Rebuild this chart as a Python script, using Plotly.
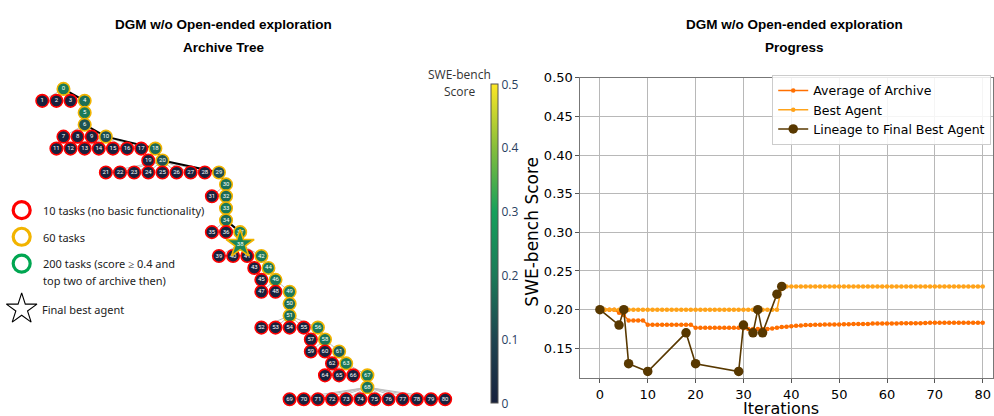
import plotly.graph_objects as go

W, H = 994, 416

# ---------------- Archive tree data ----------------
node_ids = list(range(81))
node_parent = [None, 0, 0, 0, 0, 4, 5, 6, 6, 6, 6,
               10, 10, 10, 10, 10, 10, 10, 10, 18, 18,
               20, 20, 20, 20, 20, 20, 20, 20, 20, 29,
               30, 30, 32, 33, 34, 34, 34, 37, 38, 38,
               38, 38, 42, 42, 44, 44, 46, 46, 46, 49,
               50, 51, 51, 51, 51, 51, 56, 56, 58, 58,
               58, 61, 61, 63, 63, 63, 63, 67, 68, 68,
               68, 68, 68, 68, 68, 68, 68, 68, 68, 68]
# grid placement of each node in the tree drawing (column, generation row)
node_col = [1.5, 0, 1, 2, 3, 3, 3, 1.5, 2.5, 3.5, 4.5,
            1, 2, 3, 4, 5, 6, 7, 8, 7.5, 8.5,
            4.5, 5.5, 6.5, 7.5, 8.5, 9.5, 10.5, 11.5, 12.5, 13,
            12, 13, 13, 13, 12, 13, 14, 14, 12.5, 13.5,
            14.5, 15.5, 15, 16, 15.5, 16.5, 15.5, 16.5, 17.5, 17.5,
            17.5, 15.5, 16.5, 17.5, 18.5, 19.5, 19, 20, 19, 20,
            21, 20.5, 21.5, 20, 21, 22, 23, 23, 17.5, 18.5,
            19.5, 20.5, 21.5, 22.5, 23.5, 24.5, 25.5, 26.5, 27.5, 28.5]
node_row = [0, 1, 1, 1, 1, 2, 3, 4, 4, 4, 4,
            5, 5, 5, 5, 5, 5, 5, 5, 6, 6,
            7, 7, 7, 7, 7, 7, 7, 7, 7, 8,
            9, 9, 10, 11, 12, 12, 12, 13, 14, 14,
            14, 14, 15, 15, 16, 16, 17, 17, 17, 18,
            19, 20, 20, 20, 20, 20, 21, 21, 22, 22,
            22, 23, 23, 24, 24, 24, 24, 25, 26, 26,
            26, 26, 26, 26, 26, 26, 26, 26, 26, 26]
green_scores = {0: 0.20, 4: 0.18, 5: 0.20, 6: 0.13, 10: 0.12, 18: 0.17, 20: 0.13,
                29: 0.12, 30: 0.18, 32: 0.17, 33: 0.20, 34: 0.17, 37: 0.22, 38: 0.23,
                42: 0.20, 44: 0.20, 46: 0.19, 49: 0.20, 50: 0.18, 51: 0.18, 56: 0.20,
                58: 0.19, 61: 0.15, 63: 0.20, 67: 0.20, 68: 0.19}
node_score = [green_scores.get(i, 0.0) for i in node_ids]
node_tasks = [60 if i in green_scores else 10 for i in node_ids]
final_best = 38
lineage = [0, 4, 5, 6, 10, 18, 20, 29, 30, 32, 33, 34, 37, 38]

# ---------------- Progress data ----------------
iterations = list(range(81))
avg_archive = [0.200, 0.200, 0.200, 0.200, 0.196, 0.193, 0.186, 0.186, 0.186, 0.186,
               0.1805, 0.1805, 0.1805, 0.1805, 0.1805, 0.1805, 0.1805, 0.1805, 0.1805, 0.1805,
               0.1765, 0.1765, 0.1765, 0.1765, 0.1765, 0.1765, 0.1765, 0.1765, 0.1765, 0.1765,
               0.1760, 0.1750, 0.1750, 0.1750, 0.1750, 0.1750, 0.1755, 0.1765, 0.1775, 0.1780,
               0.1785, 0.1790, 0.1795, 0.1800, 0.1800, 0.1805, 0.1805, 0.1807, 0.1807, 0.1807,
               0.1807, 0.1812, 0.1812, 0.1815, 0.1815, 0.1815, 0.1815, 0.1820, 0.1820, 0.1820,
               0.1820, 0.1820, 0.1822, 0.1825, 0.1825, 0.1825, 0.1825, 0.1825, 0.1828, 0.1830,
               0.1830, 0.1830, 0.1830, 0.1830, 0.1830, 0.1830, 0.1830, 0.1830, 0.1830, 0.1830,
               0.1830]
best_agent = [0.20] * 38 + [0.23] * 43
lineage_iters = [0, 4, 5, 6, 10, 18, 20, 29, 30, 32, 33, 34, 37, 38]
lineage_scores = [0.20, 0.18, 0.20, 0.13, 0.12, 0.17, 0.13, 0.12, 0.18, 0.17, 0.20, 0.17, 0.22, 0.23]

# ---------------- helpers for layout (pixel -> tree coords) ----------------
X0, DX = 42.3, 14.15
Y0, DY = 83.3, 12.14
def pc(px): return (px - X0) / DX
def pr(py): return (py - Y0) / DY

colorscale = [[0.0, '#18213d'], [0.2, '#1e4450'], [0.4, '#1b7a58'],
              [0.6, '#16a05c'], [0.8, '#86be3b'], [1.0, '#fde725']]

fig = go.Figure()

# edges
lin_set = set(zip(lineage[:-1], lineage[1:]))
ex, ey, lx, ly = [], [], [], []
for i, p in enumerate(node_parent):
    if p is None:
        continue
    if (p, i) in lin_set:
        lx += [node_col[p], node_col[i], None]
        ly += [node_row[p], node_row[i], None]
    else:
        ex += [node_col[p], node_col[i], None]
        ey += [node_row[p], node_row[i], None]
fig.add_trace(go.Scatter(x=ex, y=ey, mode='lines', line=dict(color='#bdbdbd', width=1),
                         hoverinfo='skip', showlegend=False, xaxis='x2', yaxis='y2'))
fig.add_trace(go.Scatter(x=lx, y=ly, mode='lines', line=dict(color='black', width=2),
                         hoverinfo='skip', showlegend=False, xaxis='x2', yaxis='y2'))

border = {10: '#ff0000', 60: '#f2b400', 200: '#00a651'}
idx = [i for i in node_ids if i != final_best]
fig.add_trace(go.Scatter(
    x=[node_col[i] for i in idx], y=[node_row[i] for i in idx],
    mode='markers+text', text=[str(i) for i in idx], textposition='middle center',
    textfont=dict(color='white', size=6, family='Roboto'),
    marker=dict(size=12.5, color=[node_score[i] for i in idx], cmin=0, cmax=0.5,
                colorscale=colorscale,
                line=dict(color=[border[node_tasks[i]] for i in idx], width=1.6),
                colorbar=dict(thickness=7, len=324 / H, lenmode='fraction',
                              y=1 - 241 / H, yanchor='middle', x=491 / W, xanchor='left',
                              xpad=0, ypad=0, outlinewidth=1, outlinecolor='#555',
                              tickvals=[0, 0.1, 0.2, 0.3, 0.4, 0.5],
                              ticktext=['0', '0.1', '0.2', '0.3', '0.4', '0.5'],
                              tickfont=dict(size=12, color='#2a3f5f', family='Open Sans'))),
    hoverinfo='skip', showlegend=False, xaxis='x2', yaxis='y2'))
fig.add_trace(go.Scatter(
    x=[node_col[final_best]], y=[node_row[final_best]], mode='markers+text',
    text=[str(final_best)], textposition='middle center',
    textfont=dict(color='white', size=6, family='Roboto'),
    marker=dict(symbol='star', size=21, color=[node_score[final_best]], cmin=0, cmax=0.5,
                colorscale=colorscale, line=dict(color=border[60], width=1.6)),
    hoverinfo='skip', showlegend=False, xaxis='x2', yaxis='y2'))

# tree legend symbols
leg_py = [206.7, 233.7, 261.0]
fig.add_trace(go.Scatter(
    x=[pc(21.7)] * 3, y=[pr(v) for v in leg_py], mode='markers',
    marker=dict(size=17, color='rgba(255,255,255,0)',
                line=dict(color=[border[10], border[60], border[200]], width=3.2)),
    hoverinfo='skip', showlegend=False, xaxis='x2', yaxis='y2'))
fig.add_trace(go.Scatter(
    x=[pc(21.7)], y=[pr(307.3)], mode='markers',
    marker=dict(symbol='star-open', size=23, color='black', line=dict(color='black', width=1.1)),
    hoverinfo='skip', showlegend=False, xaxis='x2', yaxis='y2'))

# ---------------- Progress traces ----------------
fig.add_trace(go.Scatter(x=iterations, y=avg_archive, mode='lines+markers', name='Average of Archive',
                         line=dict(color='#ff6f00', width=1.6), marker=dict(size=4.5, color='#ff6f00')))
fig.add_trace(go.Scatter(x=iterations, y=best_agent, mode='lines+markers', name='Best Agent',
                         line=dict(color='#ffa31a', width=1.6), marker=dict(size=4.5, color='#ffa31a')))
fig.add_trace(go.Scatter(x=lineage_iters, y=lineage_scores, mode='lines+markers',
                         name='Lineage to Final Best Agent',
                         line=dict(color='#583800', width=1.6), marker=dict(size=9.5, color='#583800')))

mpl_font = 'DejaVu Sans'
fig.update_layout(
    width=W, height=H, margin=dict(l=0, r=0, t=0, b=0),
    paper_bgcolor='white', plot_bgcolor='white',
    xaxis=dict(domain=[581 / W, 1], range=[-4.07, 82.15], tickvals=list(range(0, 81, 10)),
               showgrid=True, gridcolor='#b8b8b8', gridwidth=1, zeroline=False,
               showline=True, linecolor='#777', linewidth=1, mirror=True,
               ticks='outside', ticklen=4, tickcolor='#555',
               tickfont=dict(family=mpl_font, size=13, color='black')),
    yaxis=dict(domain=[1 - 377.3 / H, 1 - 72 / H], range=[0.1116, 0.5],
               tickvals=[0.15, 0.20, 0.25, 0.30, 0.35, 0.40, 0.45, 0.50], tickformat='.2f',
               showgrid=True, gridcolor='#b8b8b8', gridwidth=1, zeroline=False,
               showline=True, linecolor='#777', linewidth=1, mirror=True,
               ticks='outside', ticklen=4, tickcolor='#555',
               tickfont=dict(family=mpl_font, size=13, color='black')),
    xaxis2=dict(domain=[0, 0.5], range=[-X0 / DX, (497 - X0) / DX], visible=False, anchor='y2'),
    yaxis2=dict(domain=[0, 1], range=[(H - Y0) / DY, -Y0 / DY], visible=False, anchor='x2'),
    legend=dict(x=773 / W, y=1 - 69 / H, xanchor='left', yanchor='top',
                bgcolor='rgba(255,255,255,0.85)', bordercolor='#cccccc', borderwidth=1,
                font=dict(family=mpl_font, size=12.5, color='black'),
                tracegroupgap=0, itemwidth=30),
)

ann = []
def txt(px, py, s, size, bold=False, family=mpl_font, color='black', xanchor='center', angle=0):
    ann.append(dict(x=px / W, y=1 - py / H, xref='paper', yref='paper', text=f'<b>{s}</b>' if bold else s,
                    showarrow=False, xanchor=xanchor, yanchor='middle', textangle=angle,
                    font=dict(size=size, family=family, color=color)))

tf = 'Liberation Sans'
txt(224, 18, 'DGM w/o Open-ended exploration', 13.5, bold=True, family=tf)
txt(224, 41, 'Archive Tree', 13.5, bold=True, family=tf)
txt(795, 18, 'DGM w/o Open-ended exploration', 13.5, bold=True, family=tf)
txt(795, 41, 'Progress', 13.5, bold=True, family=tf)
txt(533, 228, 'SWE-bench Score', 17, angle=-90)
txt(782, 408.5, 'Iterations', 16)
txt(460, 69, 'SWE-bench', 12, family='Open Sans', color='#333')
txt(460, 86, 'Score', 12, family='Open Sans', color='#333')
lf = 'Noto Sans'
txt(41.5, 206.7, '10 tasks (no basic functionality)', 11, family=lf, color='#222', xanchor='left')
txt(41.5, 234, '60 tasks', 11, family=lf, color='#222', xanchor='left')
txt(41.5, 261, '200 tasks (score ≥ 0.4 and', 11, family=lf, color='#222', xanchor='left')
txt(41.5, 278.3, 'top two of archive then)', 11, family=lf, color='#222', xanchor='left')
txt(40, 307.3, 'Final best agent', 11, family=lf, color='#222', xanchor='left')
fig.update_layout(annotations=ann)

fig.write_html('out.html', config={'displayModeBar': False},
               post_script="document.body.style.margin='0';document.body.style.padding='0';"
                           "document.body.style.overflow='hidden';")
